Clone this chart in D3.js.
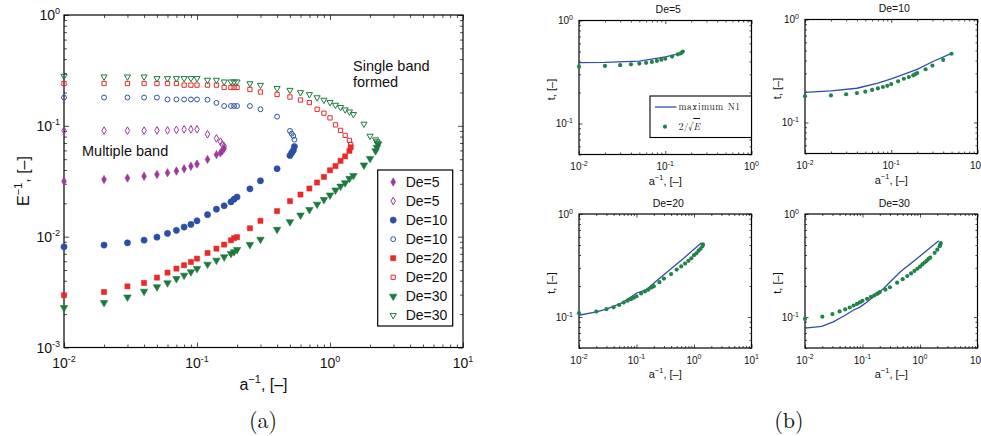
<!DOCTYPE html>
<html>
<head>
<meta charset="utf-8">
<script src="https://cdn.jsdelivr.net/npm/d3@7"></script>
<style>
  body { margin: 0; background: #fff; }
  svg text { font-family: "Liberation Sans", Arial, sans-serif; fill: #111; }
</style>
</head>
<body>
<svg id="chart" width="981" height="436"></svg>
<script>
// ---- data ----
// panel (a): a^-1 values and E^-1 values for each De, lower (filled) and upper (open) branch
let aInv5 = [0.01,0.02,0.03,0.04,0.05,0.06,0.07,0.08,0.09,0.1,0.12,0.14,0.15,0.155,0.16]
let e5Filled = [0.0316,0.0328,0.0338,0.0351,0.0364,0.0377,0.0391,0.041,0.0432,0.0452,0.0498,0.055,0.057,0.0594,0.0625]
let e5Open = [0.0905,0.0905,0.0905,0.0905,0.091,0.091,0.092,0.093,0.093,0.093,0.084,0.077,0.072,0.068,0.0655]

let aInv10 = [0.01,0.02,0.03,0.04,0.05,0.06,0.07,0.08,0.09,0.1,0.12,0.14,0.16,0.18,0.19,0.2,0.25,0.3,0.4,0.5,0.515,0.53,0.54]
let e10Filled = [0.0081,0.0084,0.0088,0.0093,0.0099,0.0107,0.0114,0.0122,0.0129,0.0139,0.0158,0.0177,0.019,0.0206,0.0218,0.0228,0.027,0.0319,0.041,0.054,0.057,0.06,0.065]
let e10Open = [0.18,0.18,0.18,0.18,0.18,0.173,0.173,0.173,0.173,0.173,0.172,0.161,0.151,0.151,0.151,0.151,0.151,0.141,0.121,0.09,0.085,0.081,0.075]

let aInv20 = [0.01,0.02,0.03,0.04,0.05,0.06,0.07,0.08,0.09,0.1,0.12,0.14,0.16,0.18,0.19,0.2,0.25,0.3,0.4,0.5,0.6,0.7,0.8,0.9,1.0,1.1,1.2,1.3,1.4,1.43]
let e20Filled = [0.00296,0.00317,0.00356,0.00382,0.00427,0.00474,0.00515,0.00552,0.00591,0.00634,0.00713,0.0078,0.00848,0.00928,0.0097,0.0099,0.0119,0.0139,0.017,0.0209,0.024,0.0272,0.0308,0.0346,0.0397,0.0433,0.0483,0.053,0.0594,0.064]
let e20Open = [0.241,0.241,0.241,0.241,0.241,0.241,0.241,0.233,0.233,0.233,0.233,0.233,0.222,0.222,0.222,0.222,0.213,0.202,0.192,0.182,0.171,0.162,0.141,0.13,0.118,0.102,0.091,0.082,0.074,0.068]

let aInv30 = [0.01,0.02,0.03,0.04,0.05,0.06,0.07,0.08,0.09,0.1,0.12,0.14,0.16,0.18,0.19,0.2,0.25,0.3,0.4,0.5,0.6,0.7,0.8,0.9,1.0,1.1,1.2,1.3,1.4,1.5,1.8,2.0,2.2,2.25,2.3]
let e30Filled = [0.00229,0.00254,0.00285,0.00321,0.00352,0.00382,0.00418,0.00448,0.0048,0.00515,0.00563,0.00612,0.00656,0.00703,0.0073,0.00764,0.00848,0.00946,0.0116,0.0136,0.0156,0.0175,0.0196,0.0216,0.0237,0.0263,0.0285,0.0306,0.0335,0.0356,0.0442,0.0507,0.0594,0.0638,0.068]
let e30Open = [0.281,0.277,0.277,0.277,0.268,0.268,0.268,0.268,0.268,0.268,0.259,0.259,0.25,0.25,0.25,0.25,0.241,0.233,0.218,0.21,0.2,0.192,0.18,0.171,0.163,0.154,0.147,0.14,0.134,0.127,0.104,0.081,0.075,0.072,0.07]

let legendLabels = ["De=5","De=5","De=10","De=10","De=20","De=20","De=30","De=30"]

// panel (b): 2/sqrt(E) dots and "maximum N1" line, per De
let aDots5 = [0.01,0.02,0.03,0.04,0.05,0.06,0.07,0.08,0.09,0.1,0.12,0.14,0.15,0.155,0.16]
let tDots5 = [0.356,0.362,0.368,0.375,0.382,0.388,0.396,0.405,0.416,0.425,0.446,0.469,0.478,0.487,0.5]
let aLine5 = [0.01,0.02,0.05,0.1,0.15]
let tLine5 = [0.39,0.392,0.404,0.443,0.48]

let aDots10 = [0.01,0.02,0.03,0.04,0.05,0.06,0.07,0.08,0.09,0.1,0.12,0.14,0.16,0.18,0.19,0.2,0.25,0.3,0.4,0.5]
let tDots10 = [0.18,0.183,0.188,0.193,0.199,0.207,0.214,0.221,0.227,0.236,0.251,0.266,0.276,0.287,0.295,0.302,0.329,0.357,0.405,0.465]
let aLine10 = [0.01,0.02,0.04,0.07,0.1,0.2,0.3,0.5]
let tLine10 = [0.196,0.203,0.215,0.241,0.265,0.328,0.389,0.468]

let aDots20 = aInv20.slice()
let tDots20 = [0.109,0.113,0.119,0.124,0.131,0.138,0.144,0.149,0.154,0.159,0.169,0.177,0.184,0.193,0.197,0.199,0.218,0.236,0.261,0.289,0.31,0.33,0.351,0.372,0.398,0.416,0.44,0.46,0.487,0.506]
let aLine20 = [0.01,0.02,0.03,0.056,0.103,0.144,0.214,0.478,0.71,1.35]
let tLine20 = [0.104,0.112,0.119,0.137,0.172,0.182,0.22,0.319,0.385,0.526]

let aDots30 = aInv30.slice()
let tDots30 = [0.0957,0.1008,0.1068,0.1133,0.1187,0.1236,0.1293,0.1339,0.1386,0.1435,0.15,0.1565,0.162,0.1677,0.171,0.1748,0.1842,0.1945,0.2154,0.233,0.25,0.265,0.28,0.294,0.308,0.324,0.338,0.35,0.366,0.377,0.42,0.45,0.487,0.505,0.522]
let aLine30 = [0.01,0.0195,0.031,0.05,0.07,0.089,0.12,0.233,0.455,0.889,2.12]
let tLine30 = [0.078,0.081,0.0896,0.104,0.117,0.124,0.14,0.189,0.275,0.37,0.55]

// ---- helpers ----
let svg = d3.select("#chart")
let purple = "#9b3a9e", blue = "#2c4fa6", red = "#ea2a2a", green = "#1b7a3e"

function logTicks(domain) {
  let vals = []
  let k0 = Math.floor(Math.log10(domain[0])), k1 = Math.ceil(Math.log10(domain[1]))
  for (let k = k0; k <= k1; k++) {
    for (let m = 1; m < 10; m++) {
      let v = +(m * Math.pow(10, k)).toPrecision(3)
      if (v >= domain[0] * 0.9999 && v <= domain[1] * 1.0001) vals.push(v)
    }
  }
  return vals
}
let isMajor = v => Math.abs(Math.log10(v) - Math.round(Math.log10(v))) < 1e-6

// inward ticks on all four sides plus a black frame
function drawFrame(g, x, y, w, h, majLen, minLen) {
  let xt = logTicks(x.domain()), yt = logTicks(y.domain())
  let sets = [[xt.filter(isMajor), yt.filter(isMajor), majLen], [xt.filter(v => !isMajor(v)), yt.filter(v => !isMajor(v)), minLen]]
  sets.forEach(([xv, yv, len]) => {
    let clean = s => s.call(a => a.select(".domain").remove()).selectAll("line").attr("stroke", "#222").attr("stroke-width", 0.8)
    g.append("g").attr("transform", `translate(0,${h})`).call(d3.axisBottom(x).tickValues(xv).tickSize(-len).tickSizeOuter(0).tickFormat("")).call(clean)
    g.append("g").call(d3.axisTop(x).tickValues(xv).tickSize(-len).tickSizeOuter(0).tickFormat("")).call(clean)
    g.append("g").call(d3.axisLeft(y).tickValues(yv).tickSize(-len).tickSizeOuter(0).tickFormat("")).call(clean)
    g.append("g").attr("transform", `translate(${w},0)`).call(d3.axisRight(y).tickValues(yv).tickSize(-len).tickSizeOuter(0).tickFormat("")).call(clean)
  })
  g.append("rect").attr("width", w).attr("height", h).attr("fill", "none").attr("stroke", "#000").attr("stroke-width", 1.2)
}

function powLabel(t, v, size, supSize) {
  t.attr("font-size", size)
  t.append("tspan").text("10")
  t.append("tspan").attr("dy", -size * 0.42).attr("font-size", supSize).text(Math.round(Math.log10(v)))
}

function tickLabels(g, x, y, w, h, size, supSize, xOff, yGap) {
  logTicks(x.domain()).filter(isMajor).forEach(v => {
    powLabel(g.append("text").attr("x", x(v)).attr("y", h + xOff).attr("text-anchor", "middle"), v, size, supSize)
  })
  logTicks(y.domain()).filter(isMajor).forEach(v => {
    powLabel(g.append("text").attr("x", -yGap).attr("y", y(v) + size * 0.38).attr("text-anchor", "end"), v, size, supSize)
  })
}

function symbolPath(kind, size) {
  let types = { diamond: d3.symbolDiamond, circle: d3.symbolCircle, square: d3.symbolSquare, triangle: d3.symbolTriangle }
  return d3.symbol().type(types[kind]).size(size)()
}
let symSize = { diamond: 20, circle: 30, square: 26, triangle: 24 }
let openScale = { diamond: 0.85, circle: 0.62, square: 0.7, triangle: 0.68 }

function drawMarker(g, px, py, s) {
  let rot = s.sym === "triangle" ? " rotate(180)" : ""
  g.append("path")
    .attr("d", symbolPath(s.sym, s.filled ? symSize[s.sym] : symSize[s.sym] * openScale[s.sym]))
    .attr("transform", `translate(${px},${py})${rot}`)
    .attr("fill", s.filled ? s.color : "none")
    .attr("stroke", s.color)
    .attr("stroke-width", s.filled ? 0.6 : 1)
}

// ---- panel (a) ----
let A = { left: 64, top: 15, width: 399, height: 332.5 }
let ga = svg.append("g").attr("transform", `translate(${A.left},${A.top})`)
let xa = d3.scaleLog().domain([0.01, 10]).range([0, A.width])
let ya = d3.scaleLog().domain([0.001, 1]).range([A.height, 0])

let series = [
  { x: aInv5, y: e5Filled, sym: "diamond", filled: true, color: purple },
  { x: aInv5, y: e5Open, sym: "diamond", filled: false, color: purple },
  { x: aInv10, y: e10Filled, sym: "circle", filled: true, color: blue },
  { x: aInv10, y: e10Open, sym: "circle", filled: false, color: blue },
  { x: aInv20, y: e20Filled, sym: "square", filled: true, color: red },
  { x: aInv20, y: e20Open, sym: "square", filled: false, color: red },
  { x: aInv30, y: e30Filled, sym: "triangle", filled: true, color: green },
  { x: aInv30, y: e30Open, sym: "triangle", filled: false, color: green }
]

drawFrame(ga, xa, ya, A.width, A.height, 5, 3)
series.forEach(s => {
  s.x.forEach((a, i) => drawMarker(ga, xa(a), ya(s.y[i]), s))
})
tickLabels(ga, xa, ya, A.width, A.height, 14, 9, 20.5, 4)

ga.append("text").attr("x", 18).attr("y", 141).attr("font-size", 14.5).text("Multiple band")
ga.append("text").attr("x", 289).attr("y", 56).attr("font-size", 14.5).text("Single band")
ga.append("text").attr("x", 289).attr("y", 72).attr("font-size", 14.5).text("formed")

// legend
let lg = ga.append("g").attr("transform", `translate(${377.7 - A.left},${170 - A.top})`)
lg.append("rect").attr("width", 75).attr("height", 156).attr("fill", "#fff").attr("stroke", "#000").attr("stroke-width", 1.2)
series.forEach((s, i) => {
  let yy = 12 + i * 19.05
  drawMarker(lg, 15.5, yy, s)
  lg.append("text").attr("x", 28).attr("y", yy + 5).attr("font-size", 14).text(legendLabels[i])
})

// axis labels
let xlab = svg.append("text").attr("x", 263.5).attr("y", 390).attr("text-anchor", "middle").attr("font-size", 16)
xlab.append("tspan").text("a")
xlab.append("tspan").attr("dy", -7).attr("font-size", 11).text("\u22121")
xlab.append("tspan").attr("dy", 7).text(", [\u2013]")
let ylab = svg.append("text").attr("transform", "translate(29,181) rotate(-90)").attr("text-anchor", "middle").attr("font-size", 16)
ylab.append("tspan").text("E")
ylab.append("tspan").attr("dy", -7).attr("font-size", 11).text("\u22121")
ylab.append("tspan").attr("dy", 7).text(", [\u2013]")

svg.append("text").attr("x", 263).attr("y", 428).attr("text-anchor", "middle")
  .style("font-family", "'Latin Modern Roman','DejaVu Serif','Liberation Serif',serif").attr("font-size", 22).text("(a)")
svg.append("text").attr("x", 789).attr("y", 428).attr("text-anchor", "middle")
  .style("font-family", "'Latin Modern Roman','DejaVu Serif','Liberation Serif',serif").attr("font-size", 22).text("(b)")

// ---- panel (b): four small plots ----
let panels = [
  { title: "De=5", left: 579, top: 20.5, xDom: [0.01, 1], ad: aDots5, td: tDots5, al: aLine5, tl: tLine5, legend: true },
  { title: "De=10", left: 805, top: 19.5, xDom: [0.01, 1], ad: aDots10, td: tDots10, al: aLine10, tl: tLine10 },
  { title: "De=20", left: 579, top: 214, xDom: [0.01, 10], ad: aDots20, td: tDots20, al: aLine20, tl: tLine20 },
  { title: "De=30", left: 805, top: 214, xDom: [0.01, 10], ad: aDots30, td: tDots30, al: aLine30, tl: tLine30 }
]
let PW = 172.5, PH = 134

panels.forEach(p => {
  let g = svg.append("g").attr("transform", `translate(${p.left},${p.top})`)
  let x = d3.scaleLog().domain(p.xDom).range([0, PW])
  let y = d3.scaleLog().domain([0.05, 1]).range([PH, 0])
  drawFrame(g, x, y, PW, PH, 3.5, 2)

  let line = d3.line().x(d => x(d[0])).y(d => y(d[1]))
  g.append("path").datum(p.al.map((a, i) => [a, p.tl[i]]))
    .attr("d", line).attr("fill", "none").attr("stroke", "#2f4ea8").attr("stroke-width", 1.3)
  g.selectAll("circle.dot").data(p.ad.map((a, i) => [a, p.td[i]])).enter()
    .append("circle").attr("class", "dot")
    .attr("cx", d => x(d[0])).attr("cy", d => y(d[1])).attr("r", 2.1)
    .attr("fill", "#22834a")

  tickLabels(g, x, y, PW, PH, 10, 7, 15.5, 6)
  g.append("text").attr("x", PW / 2 + 3).attr("y", -7.5).attr("text-anchor", "middle").attr("font-size", 10.5).text(p.title)

  let xl = g.append("text").attr("x", PW / 2).attr("y", PH + 30).attr("text-anchor", "middle").attr("font-size", 11)
  xl.append("tspan").text("a")
  xl.append("tspan").attr("dy", -5).attr("font-size", 7.5).text("\u22121")
  xl.append("tspan").attr("dy", 5).text(", [\u2013]")
  g.append("text").attr("transform", `translate(-24,${PH / 2 + 2}) rotate(-90)`).attr("text-anchor", "middle")
    .attr("font-size", 11).text("t, [\u2013]")

  if (p.legend) {
    let L = g.append("g").attr("transform", `translate(${650 - p.left},${96 - p.top})`)
    L.append("rect").attr("width", PW - (650 - p.left)).attr("height", 41.5).attr("fill", "#fff").attr("stroke", "#000").attr("stroke-width", 1.1)
    L.append("line").attr("x1", 5).attr("x2", 26.5).attr("y1", 11).attr("y2", 11).attr("stroke", "#2f4ea8").attr("stroke-width", 1.3)
    L.append("text").attr("x", 28.5).attr("y", 14).attr("font-size", 9.5).attr("letter-spacing", 0.6)
      .style("font-family", "'Latin Modern Roman','DejaVu Serif','Liberation Serif',serif").text("maximum N1")
    L.append("circle").attr("cx", 15).attr("cy", 30.7).attr("r", 2.1).attr("fill", "#22834a")
    let f = L.append("text").attr("x", 28.5).attr("y", 34).attr("font-size", 10)
      .style("font-family", "'Latin Modern Roman','DejaVu Serif','Liberation Serif',serif")
    f.append("tspan").text("2/\u221A")
    f.append("tspan").style("font-style", "italic").style("text-decoration", "overline").text("E")
  }
})
</script>
</body>
</html>
